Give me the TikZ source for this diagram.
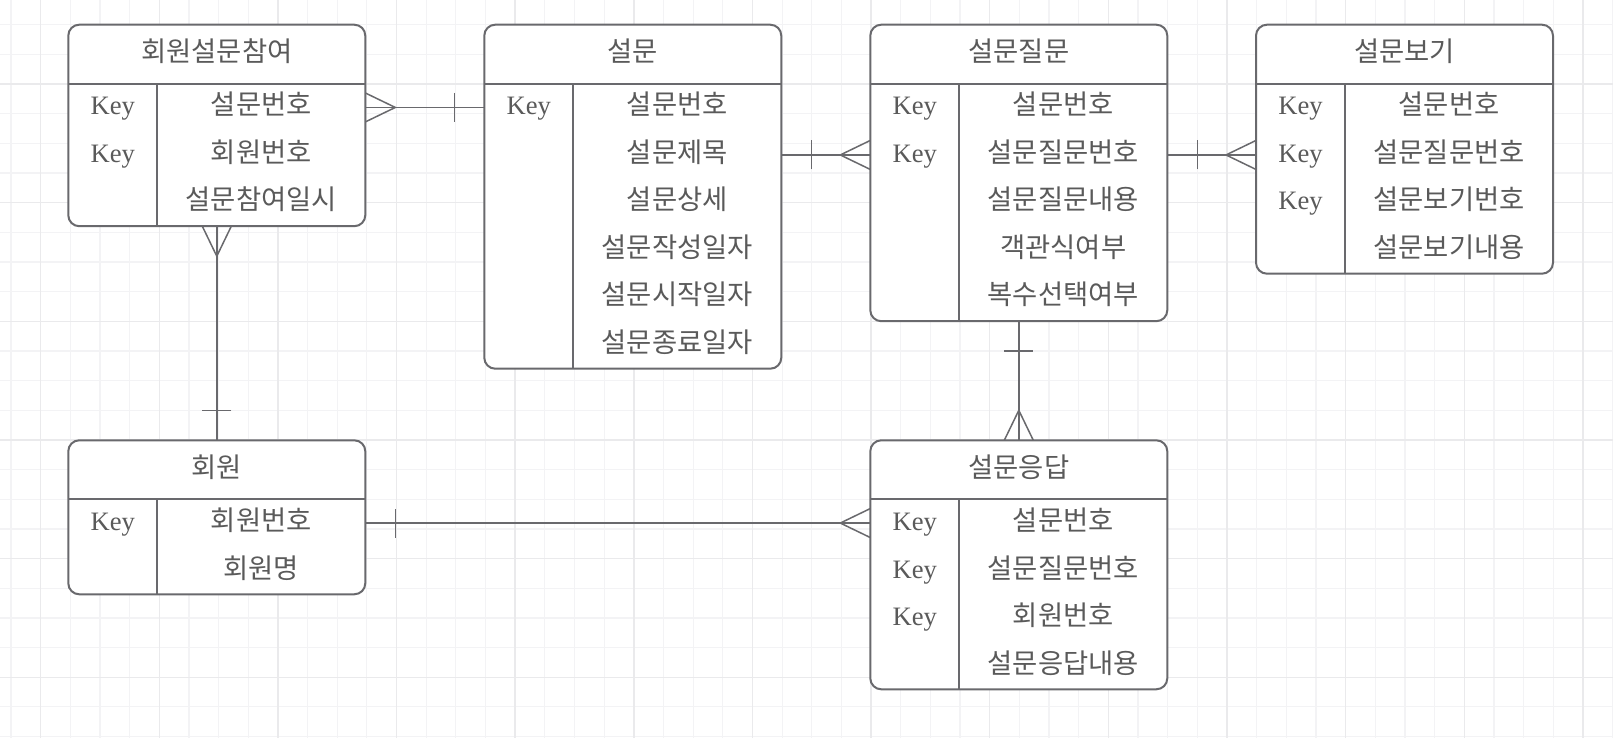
\documentclass[tikz,border=0pt]{standalone}
\usepackage{fontspec}
\setmainfont{Liberation Serif}
\newfontfamily\krfont{Noto Sans CJK KR}
\usepackage{tikz}
\usetikzlibrary{positioning}
\usetikzlibrary{decorations.markings}
\usetikzlibrary{backgrounds}
\definecolor{lineGray}{HTML}{69696D}
\definecolor{textGray}{HTML}{5A5A5A}
\definecolor{gridMinor}{HTML}{F3F3F5}
\definecolor{gridMajor}{HTML}{EAEAEC}
\tikzstyle{header} = [rectangle, anchor=north west, minimum width=148.5pt, minimum height=29.5pt, inner sep=0pt, outer sep=0pt, text height=9.5pt, text depth=2pt, text centered, text=textGray, font=\krfont\fontsize{13.7}{15}\selectfont]
\tikzstyle{field} = [rectangle, minimum width=104pt, minimum height=23.75pt, inner sep=0pt, outer sep=0pt, text height=9.5pt, text depth=2pt, text=textGray, font=\krfont\fontsize{13.7}{15}\selectfont]
\tikzstyle{keycell} = [rectangle, minimum width=44.5pt, minimum height=23.75pt, inner sep=0pt, outer sep=0pt, text height=9.5pt, text depth=2pt, text=textGray, font=\fontsize{13.3}{15}\selectfont]
\tikzstyle{entity} = [draw=lineGray, line width=1pt, fill=white, rounded corners=5.5pt]
\tikzstyle{divider} = [draw=lineGray, line width=1pt]
\tikzstyle{relation} = [draw=lineGray, line width=0.75pt, postaction={decorate, decoration={markings, mark=at position 15pt with {\draw[lineGray, line width=0.75pt] (0pt,-7.25pt) -- (0pt,7.25pt);}, mark=at position 1 with {\draw[lineGray, line width=0.75pt] (0pt,7.25pt) -- (-15pt,0pt) -- (0pt,-7.25pt);}}}]
\tikzstyle{gridline} = [draw=gridMinor, line width=0.6pt]
\tikzstyle{gridbold} = [draw=gridMajor, line width=0.7pt]

\begin{document}
\begin{tikzpicture}[x=0.5pt, y=-0.5pt]

        \useasboundingbox (0,0) rectangle (1613,738);
        \begin{scope}[on background layer]
            \fill[white] (0,0) rectangle (1613,738);
            \foreach \k in {0,...,54} \draw[gridline] ({10.96+29.66*\k},0) -- ({10.96+29.66*\k},738);
            \foreach \k in {0,...,25} \draw[gridline] (0,{-4.96+29.66*\k}) -- (1613,{-4.96+29.66*\k});
            \foreach \k in {0,...,13} \draw[gridbold] ({40.62+118.64*\k},0) -- ({40.62+118.64*\k},738);
            \foreach \k in {0,...,6} \draw[gridbold] (0,{-34.6+118.64*\k}) -- (1613,{-34.6+118.64*\k});
        \end{scope}

        % 회원설문참여
        \node (surveyJoin) [header] at (68.3,24.7) {회원설문참여};
        \node (surveyJoinField1) [field, below left=0pt and 0pt of surveyJoin.south east] {설문번호};
        \node (surveyJoinField2) [field, below=0pt of surveyJoinField1] {회원번호};
        \node (surveyJoinField3) [field, below=0pt of surveyJoinField2] {설문참여일시};
        \node (surveyJoinKey1) [keycell, left=0pt of surveyJoinField1] {Key};
        \node (surveyJoinKey2) [keycell, left=0pt of surveyJoinField2] {Key};

        % 설문
        \node (survey) [header] at (484.3,24.7) {설문};
        \node (surveyField1) [field, below left=0pt and 0pt of survey.south east] {설문번호};
        \node (surveyField2) [field, below=0pt of surveyField1] {설문제목};
        \node (surveyField3) [field, below=0pt of surveyField2] {설문상세};
        \node (surveyField4) [field, below=0pt of surveyField3] {설문작성일자};
        \node (surveyField5) [field, below=0pt of surveyField4] {설문시작일자};
        \node (surveyField6) [field, below=0pt of surveyField5] {설문종료일자};
        \node (surveyKey1) [keycell, left=0pt of surveyField1] {Key};

        % 설문질문
        \node (surveyQuestion) [header] at (870.3,24.7) {설문질문};
        \node (surveyQuestionField1) [field, below left=0pt and 0pt of surveyQuestion.south east] {설문번호};
        \node (surveyQuestionField2) [field, below=0pt of surveyQuestionField1] {설문질문번호};
        \node (surveyQuestionField3) [field, below=0pt of surveyQuestionField2] {설문질문내용};
        \node (surveyQuestionField4) [field, below=0pt of surveyQuestionField3] {객관식여부};
        \node (surveyQuestionField5) [field, below=0pt of surveyQuestionField4] {복수선택여부};
        \node (surveyQuestionKey1) [keycell, left=0pt of surveyQuestionField1] {Key};
        \node (surveyQuestionKey2) [keycell, left=0pt of surveyQuestionField2] {Key};

        % 설문보기
        \node (surveyOption) [header] at (1256,24.7) {설문보기};
        \node (surveyOptionField1) [field, below left=0pt and 0pt of surveyOption.south east] {설문번호};
        \node (surveyOptionField2) [field, below=0pt of surveyOptionField1] {설문질문번호};
        \node (surveyOptionField3) [field, below=0pt of surveyOptionField2] {설문보기번호};
        \node (surveyOptionField4) [field, below=0pt of surveyOptionField3] {설문보기내용};
        \node (surveyOptionKey1) [keycell, left=0pt of surveyOptionField1] {Key};
        \node (surveyOptionKey2) [keycell, left=0pt of surveyOptionField2] {Key};
        \node (surveyOptionKey3) [keycell, left=0pt of surveyOptionField3] {Key};

        % 회원
        \node (member) [header] at (68.3,440.3) {회원};
        \node (memberField1) [field, below left=0pt and 0pt of member.south east] {회원번호};
        \node (memberField2) [field, below=0pt of memberField1] {회원명};
        \node (memberKey1) [keycell, left=0pt of memberField1] {Key};

        % 설문응답
        \node (surveyAnswer) [header] at (870.3,440.3) {설문응답};
        \node (surveyAnswerField1) [field, below left=0pt and 0pt of surveyAnswer.south east] {설문번호};
        \node (surveyAnswerField2) [field, below=0pt of surveyAnswerField1] {설문질문번호};
        \node (surveyAnswerField3) [field, below=0pt of surveyAnswerField2] {회원번호};
        \node (surveyAnswerField4) [field, below=0pt of surveyAnswerField3] {설문응답내용};
        \node (surveyAnswerKey1) [keycell, left=0pt of surveyAnswerField1] {Key};
        \node (surveyAnswerKey2) [keycell, left=0pt of surveyAnswerField2] {Key};
        \node (surveyAnswerKey3) [keycell, left=0pt of surveyAnswerField3] {Key};

        \begin{scope}[on background layer]
            \draw [entity] (surveyJoin.north west) rectangle (surveyJoinField3.south east);
            \draw [entity] (survey.north west) rectangle (surveyField6.south east);
            \draw [entity] (surveyQuestion.north west) rectangle (surveyQuestionField5.south east);
            \draw [entity] (surveyOption.north west) rectangle (surveyOptionField4.south east);
            \draw [entity] (member.north west) rectangle (memberField2.south east);
            \draw [entity] (surveyAnswer.north west) rectangle (surveyAnswerField4.south east);
        \end{scope}

        \draw [divider] (surveyJoin.south west) -- (surveyJoin.south east);
        \draw [divider] (surveyJoinField1.north west) -- (surveyJoinField3.south west);
        \draw [divider] (survey.south west) -- (survey.south east);
        \draw [divider] (surveyField1.north west) -- (surveyField6.south west);
        \draw [divider] (surveyQuestion.south west) -- (surveyQuestion.south east);
        \draw [divider] (surveyQuestionField1.north west) -- (surveyQuestionField5.south west);
        \draw [divider] (surveyOption.south west) -- (surveyOption.south east);
        \draw [divider] (surveyOptionField1.north west) -- (surveyOptionField4.south west);
        \draw [divider] (member.south west) -- (member.south east);
        \draw [divider] (memberField1.north west) -- (memberField2.south west);
        \draw [divider] (surveyAnswer.south west) -- (surveyAnswer.south east);
        \draw [divider] (surveyAnswerField1.north west) -- (surveyAnswerField4.south west);

        \draw [relation] (survey.west |- surveyField1) -- (surveyJoin.east |- surveyJoinField1);
        \draw [relation] (survey.east |- surveyField2) -- (surveyQuestion.west |- surveyQuestionField2);
        \draw [relation] (surveyQuestion.east |- surveyQuestionField2) -- (surveyOption.west |- surveyOptionField2);
        \draw [relation] (surveyQuestion.center |- surveyQuestionField5.south) -- (surveyAnswer.north);
        \draw [relation] (member.north) -- (surveyJoin.center |- surveyJoinField3.south);
        \draw [relation] (member.east |- memberField1) -- (surveyAnswer.west |- surveyAnswerField1);

    \end{tikzpicture}
\end{document}
